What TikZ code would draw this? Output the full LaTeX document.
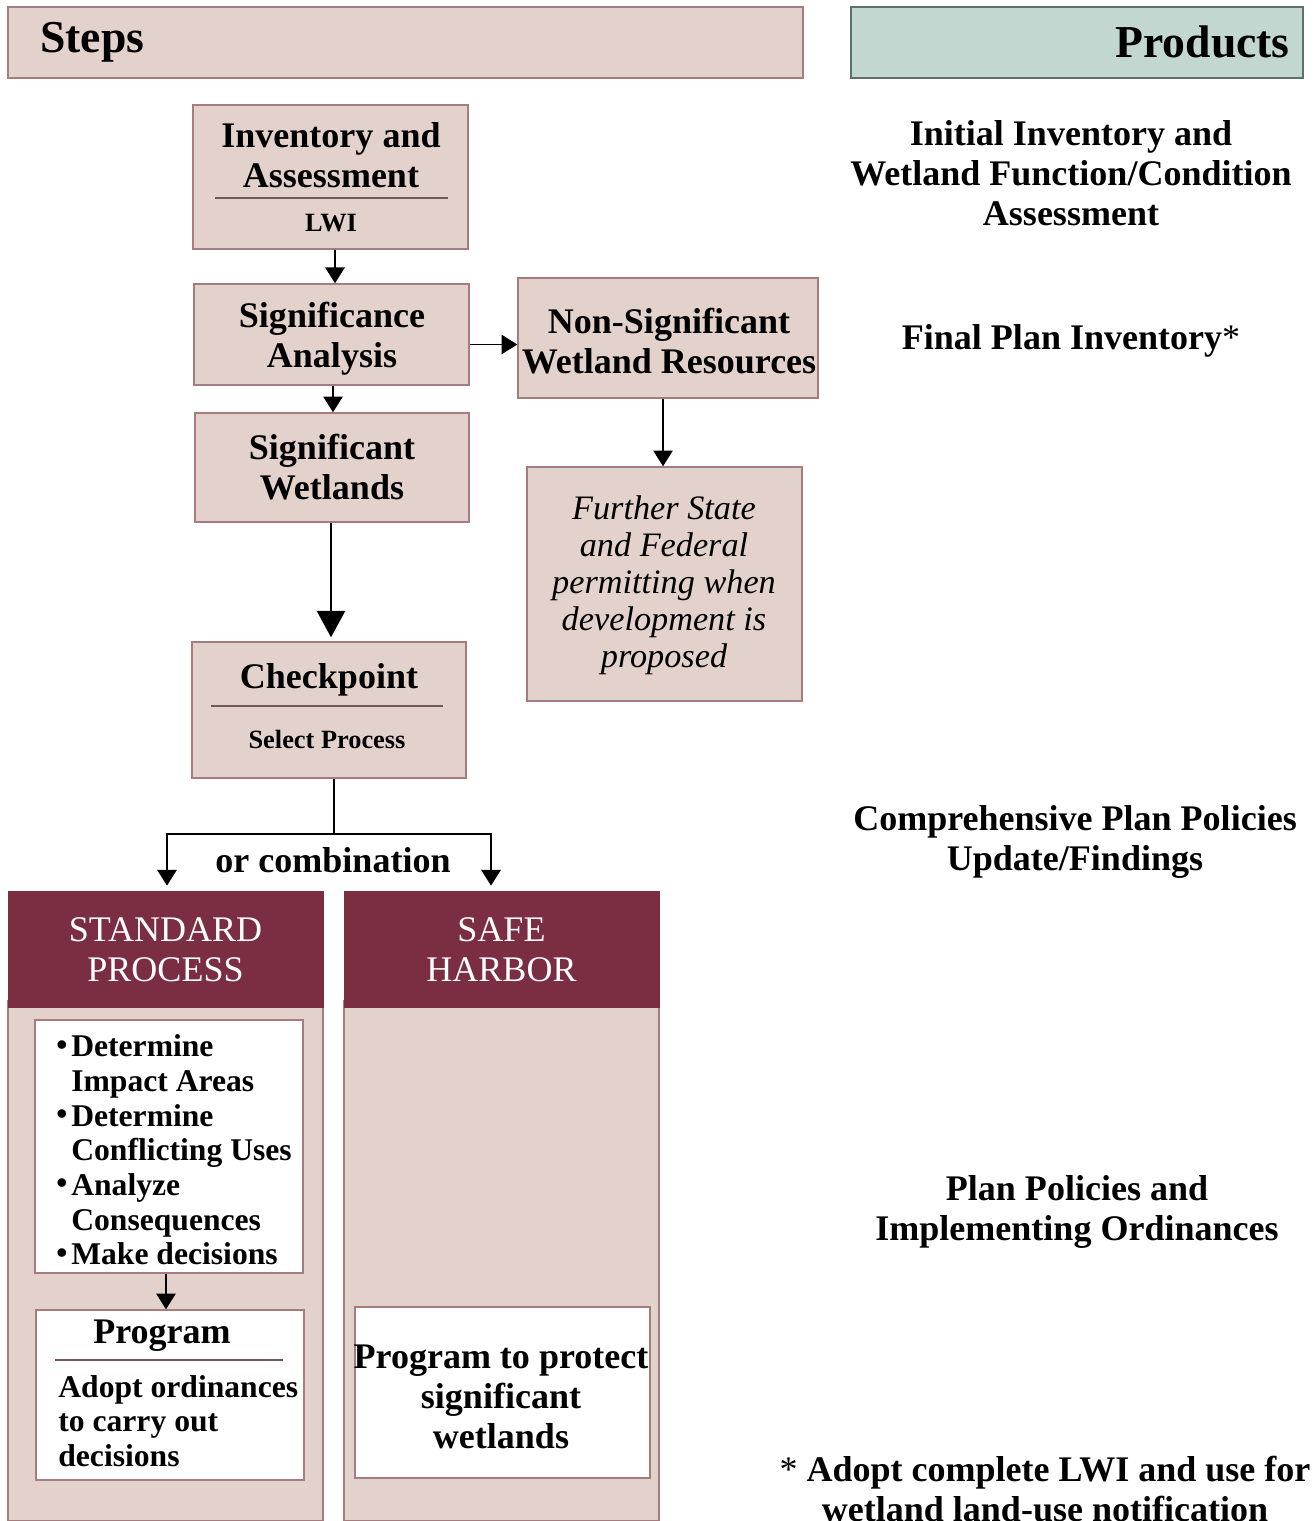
\documentclass[tikz,border=0pt]{standalone}
\usepackage{fontspec}
\setmainfont{Liberation Serif}
\usetikzlibrary{arrows.meta}
\definecolor{boxpink}{HTML}{E3D2CC}
\definecolor{boxedge}{HTML}{A67C7E}
\definecolor{maroon}{HTML}{7B2E41}
\definecolor{sage}{HTML}{C3D7D1}
\definecolor{sageedge}{HTML}{5E706B}
\newcommand{\bul}{\makebox[8.5pt][l]{\raisebox{0.05em}{\textbullet}}}
\newcommand{\ind}{\hspace*{8.5pt}}

\tikzset{
  stepbox/.style={draw=boxedge, fill=boxpink, line width=0.8pt, inner sep=0pt},
  whitebox/.style={draw=boxedge, fill=white, line width=0.8pt, inner sep=0pt},
  prodbox/.style={draw=sageedge, fill=sage, line width=0.8pt, inner sep=0pt},
  headbox/.style={draw=maroon, fill=maroon, inner sep=0pt},
  headtext/.style={font=\fontsize{26}{30}\selectfont\bfseries, inner sep=0pt},
  maintext/.style={font=\fontsize{20.5}{22.7}\selectfont\bfseries, align=center, inner sep=0pt},
  listtext/.style={font=\fontsize{18}{19.7}\selectfont\bfseries, align=left, inner sep=0pt},
  smalltext/.style={font=\fontsize{15}{17}\selectfont\bfseries, inner sep=0pt},
  italtext/.style={font=\fontsize{19.5}{21}\selectfont\itshape, align=center, inner sep=0pt},
  captext/.style={font=\fontsize{20.5}{22.7}\selectfont, text=white, align=center, inner sep=0pt},
  rule/.style={draw=boxedge!70!black, line width=0.8pt},
  link/.style={line width=1.1pt},
  flow/.style={line width=1.1pt, -{Triangle[width=11pt,length=9pt]}},
  bigflow/.style={line width=1.1pt, -{Triangle[width=16pt,length=15pt]}},
}

\begin{document}
\begin{tikzpicture}[x=0.02cm, y=-0.02cm]
	\useasboundingbox (0,0) rectangle (1315,1521);
	\clip (0,0) rectangle (1315,1521);
	% Headers
	\node[stepbox, minimum width=15.9cm, minimum height=1.42cm] (stepshead) at (405.5,42.5) {};
	\node[headtext, anchor=west] (stepslbl) at (40,42) {Steps};
	\node[prodbox, minimum width=9.04cm, minimum height=1.42cm] (prodhead) at (1077,42.5) {};
	\node[headtext, anchor=east] (prodlbl) at (1290,42) {Products};
	% Steps column
	\node[stepbox, minimum width=5.5cm, minimum height=2.88cm] (inv) at (330.5,177) {};
	\node[maintext] (invlbl) at (331,155.5) {Inventory and\\Assessment};
	\draw[rule] (215,198) -- (448,198);
	\node[smalltext] (lwi) at (331,223) {LWI};
	\node[stepbox, minimum width=5.5cm, minimum height=2.02cm] (sig) at (331.5,334.5) {};
	\node[maintext] (siglbl) at (332,339) {Significance\\Analysis};
	\node[stepbox, minimum width=6cm, minimum height=2.4cm] (nons) at (668,338) {};
	\node[maintext] (nonslbl) at (669,341) {Non-Significant\\Wetland Resources};
	\node[stepbox, minimum width=5.48cm, minimum height=2.18cm] (sigw) at (332,467.5) {};
	\node[maintext] (sigwlbl) at (332,467) {Significant\\Wetlands};
	\node[stepbox, minimum width=5.5cm, minimum height=4.68cm] (further) at (664.5,584) {};
	\node[italtext] (furtherlbl) at (664,585) {Further State\\and Federal\\permitting when\\development is\\proposed};
	\node[stepbox, minimum width=5.48cm, minimum height=2.72cm] (check) at (329,710) {};
	\node[maintext] (checklbl) at (329,680) {Checkpoint};
	\draw[rule] (211,706) -- (443,706);
	\node[smalltext] (select) at (327,739) {Select Process};
	% Connectors
	\draw[flow] (inv.south -| 335,0) -- (sig.north -| 335,0);
	\draw[flow] ([yshift=-0.2cm]sig.east) -- ([yshift=-0.2cm]sig.east -| nons.west);
	\draw[flow] (sig.south -| 333,0) -- (sigw.north -| 333,0);
	\draw[bigflow] (sigw.south -| 331,0) -- ([yshift=0.08cm]check.north -| 331,0);
	\draw[flow] (nons.south -| 663,0) -- (further.north -| 663,0);
	% Two processes
	\node[stepbox, minimum width=6.3cm, minimum height=10.4cm, anchor=north] (stdbody) at (165.5,1000) {};
	\node[headbox, minimum width=6.3cm, minimum height=2.32cm] (stdhead) at (165.5,949) {};
	\node[captext] (stdlbl) at (165.5,950) {STANDARD\\PROCESS};
	\node[stepbox, minimum width=6.3cm, minimum height=10.4cm, anchor=north] (safebody) at (501.5,1000) {};
	\node[headbox, minimum width=6.3cm, minimum height=2.32cm] (safehead) at (501.5,949) {};
	\node[captext] (safelbl) at (501.5,950) {SAFE\\HARBOR};
	\coordinate (split) at (334,834);
	\draw[link] (check.south -| split) -- (split);
	\draw[flow, shorten >=0.1cm] (split) -| ([xshift=0.03cm]stdhead.north);
	\draw[flow, shorten >=0.1cm] (split) -| ([xshift=-0.21cm]safehead.north);
	\node[maintext] (orcomb) at (333,860) {or combination};
	% Standard process steps
	\node[whitebox, minimum width=5.36cm, minimum height=5.06cm] (tasks) at (169,1146.5) {};
	\node[listtext, anchor=west] (taskslbl) at (56,1150) {\bul Determine\\\ind Impact Areas\\\bul Determine\\\ind Conflicting Uses\\\bul Analyze\\\ind Consequences\\\bul Make decisions};
	\node[whitebox, minimum width=5.36cm, minimum height=3.4cm] (prog) at (170,1395) {};
	\node[maintext] (proglbl) at (162,1336) {Program};
	\draw[rule] (55,1360) -- (283,1360);
	\node[listtext, anchor=west] (adopt) at (58,1421) {Adopt ordinances\\to carry out\\decisions};
	\draw[flow] (tasks.south -| 166,0) -- (prog.north -| 166,0);
	% Safe harbor step
	\node[whitebox, minimum width=5.9cm, minimum height=3.42cm] (protect) at (502.5,1392.5) {};
	\node[maintext] (protectlbl) at (501,1397) {Program to protect\\significant\\wetlands};
	% Products column
	\node[maintext] (initial) at (1071,173) {Initial Inventory and\\Wetland Function/Condition\\Assessment};
	\node[maintext] (final) at (1071,341) {Final Plan Inventory{\mdseries*}};
	\node[maintext] (comp) at (1075,842) {Comprehensive Plan Policies\\Update/Findings};
	\node[maintext] (policies) at (1077,1212) {Plan Policies and\\Implementing Ordinances};
	\node[maintext, anchor=north] (note) at (1045,1456) {{\mdseries*} Adopt complete LWI and use for\\wetland land-use notification};
\end{tikzpicture}
\end{document}
